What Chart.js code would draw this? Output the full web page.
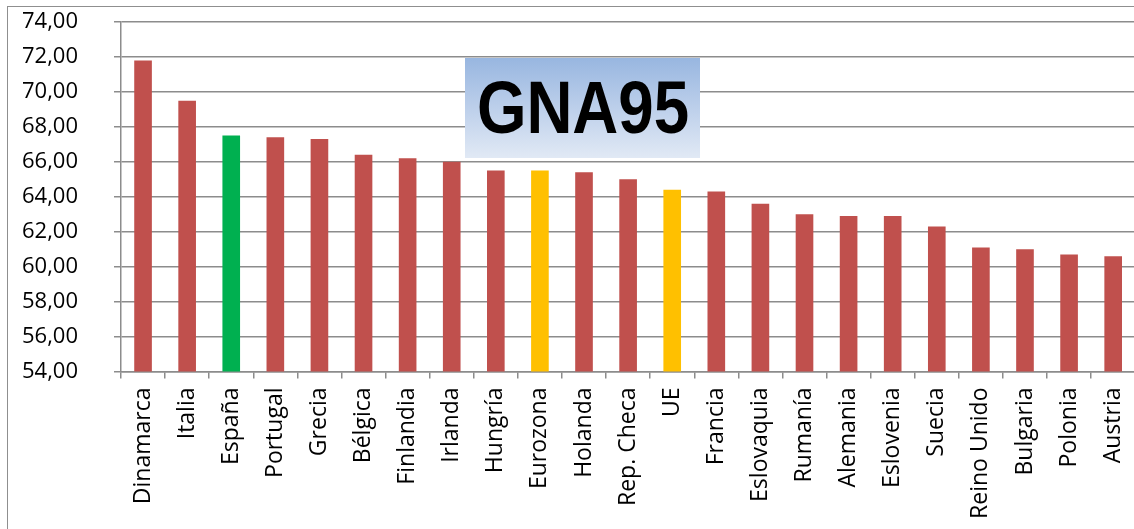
<!DOCTYPE html>
<html lang="es">
<head>
    <meta charset="UTF-8">
    <title>GNA95</title>
    <script src="https://cdn.jsdelivr.net/npm/chart.js"></script>
    <style>
        html, body {
            margin: 0;
            padding: 0;
            background: #fff;
            overflow: hidden;
            width: 1134px;
            height: 529px;
        }
        .marco {
            position: absolute;
            left: 7px;
            top: 6px;
            width: 1200px;
            height: 600px;
            border-left: 1px solid #8f8f8f;
            border-top: 1px solid #8f8f8f;
        }
        .grafico {
            position: absolute;
            left: 0;
            top: 0;
            width: 1150px;
            height: 529px;
        }
        .titulo {
            position: absolute;
            left: 465px;
            top: 58px;
            width: 235px;
            height: 100px;
            overflow: hidden;
            background: linear-gradient(to bottom, #98b6e0, #e1e9f5);
            z-index: 2;
        }
        .titulo span {
            position: absolute;
            left: 50%;
            top: 13px;
            white-space: nowrap;
            font-family: 'Liberation Sans', Arial, sans-serif;
            font-weight: bold;
            font-size: 74px;
            line-height: 73px;
            color: #000;
            transform: translateX(-50%) scaleX(0.86);
        }
    </style>
</head>
<body>
    <div class="marco"></div>
    <div class="grafico"><canvas id="gna"></canvas></div>
    <div class="titulo"><span>GNA95</span></div>

    <script>
        // Datos
        const paises = ['Dinamarca', 'Italia', 'España', 'Portugal', 'Grecia', 'Bélgica', 'Finlandia',
            'Irlanda', 'Hungría', 'Eurozona', 'Holanda', 'Rep. Checa', 'UE', 'Francia', 'Eslovaquia',
            'Rumanía', 'Alemania', 'Eslovenia', 'Suecia', 'Reino Unido', 'Bulgaria', 'Polonia', 'Austria'];
        const valores = [71.8, 69.5, 67.5, 67.4, 67.3, 66.4, 66.2, 66.0, 65.5, 65.5, 65.4, 65.0, 64.4,
            64.3, 63.6, 63.0, 62.9, 62.9, 62.3, 61.1, 61.0, 60.7, 60.6];
        const destacadoVerde = ['España'];
        const destacadoAmarillo = ['Eurozona', 'UE'];

        const colores = paises.map(p => {
            if (destacadoVerde.includes(p)) return '#00b050';
            if (destacadoAmarillo.includes(p)) return '#ffc000';
            return '#c0504d';
        });

        const gris = '#8c8c8c';
        const fuente = "'Open Sans', sans-serif";

        new Chart(document.getElementById('gna'), {
            type: 'bar',
            data: {
                labels: paises,
                datasets: [{
                    data: valores,
                    backgroundColor: colores,
                    borderWidth: 0,
                    barPercentage: 0.4,
                    categoryPercentage: 1.0
                }]
            },
            options: {
                responsive: true,
                maintainAspectRatio: false,
                animation: false,
                layout: {
                    padding: { left: 0, right: 10, top: 22, bottom: 0 }
                },
                plugins: {
                    legend: { display: false },
                    tooltip: { enabled: false }
                },
                scales: {
                    y: {
                        min: 54,
                        max: 74,
                        ticks: {
                            stepSize: 2,
                            padding: 36,
                            color: '#000',
                            font: { family: fuente, size: 22 },
                            callback: v => v.toFixed(2).replace('.', ',')
                        },
                        grid: {
                            color: gris,
                            lineWidth: 1.5,
                            tickLength: 7
                        },
                        border: { display: true, color: gris, width: 1.5 },
                        afterFit: s => {
                            s.width = 121;
                            // el padding de las etiquetas no debe empujar el área del gráfico
                            s.paddingTop = 0;
                            s.paddingBottom = 0;
                        }
                    },
                    x: {
                        ticks: {
                            minRotation: 90,
                            maxRotation: 90,
                            autoSkip: false,
                            padding: 9,
                            color: '#000',
                            font: { family: fuente, size: 23 }
                        },
                        grid: {
                            color: gris,
                            lineWidth: 1.5,
                            drawOnChartArea: false,
                            tickLength: 7
                        },
                        border: { display: true, color: gris, width: 1.5 },
                        afterFit: s => { s.height = 157.5; }
                    }
                }
            }
        });
    </script>
</body>
</html>
